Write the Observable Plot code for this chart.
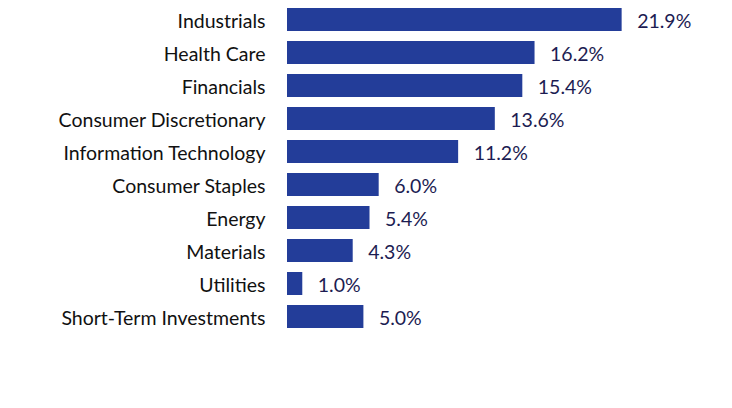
<!DOCTYPE html>
<html>
<head>
<meta charset="utf-8">
<script src="https://cdn.jsdelivr.net/npm/d3@7"></script>
<script src="https://cdn.jsdelivr.net/npm/@observablehq/plot@0.6"></script>
<style>
  html, body { margin: 0; padding: 0; background: #fff; }
</style>
</head>
<body>
<div id="chart"></div>
<script>
const sectors = ["Industrials", "Health Care", "Financials", "Consumer Discretionary", "Information Technology", "Consumer Staples", "Energy", "Materials", "Utilities", "Short-Term Investments"];
const weights = [21.9, 16.2, 15.4, 13.6, 11.2, 6.0, 5.4, 4.3, 1.0, 5.0];

const data = sectors.map((s, i) => ({sector: s, value: weights[i]}));

const chart = Plot.plot({
  width: 732,
  height: 408,
  marginLeft: 287,
  marginRight: 63,
  marginTop: 8,
  marginBottom: 76,
  style: {fontFamily: "Lato, sans-serif", fontSize: "19.5px", color: "#111", background: "#fff"},
  x: {domain: [0, 25], axis: null},
  y: {domain: sectors, paddingInner: 0.31, paddingOuter: 0, align: 0, label: null},
  marks: [
    Plot.axisY({tickSize: 0, tickPadding: 22, fontSize: 19.5, dy: 1.5, label: null}),
    Plot.barX(data, {x: "value", y: "sector", fill: "#233d99"}),
    Plot.text(data, {x: "value", y: "sector", text: d => d.value.toFixed(1) + "%", dx: 15, dy: 1.5, textAnchor: "start", fill: "#1c1c52", fontSize: 19.5})
  ]
});
document.getElementById("chart").appendChild(chart);
</script>
</body>
</html>
